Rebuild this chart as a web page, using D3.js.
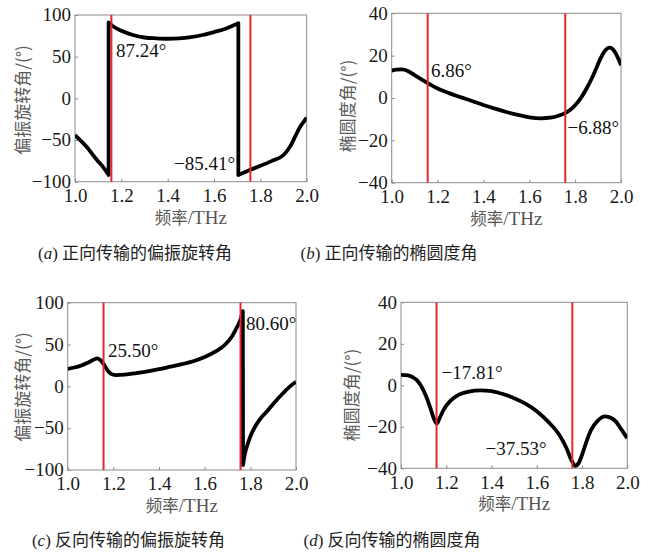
<!DOCTYPE html>
<html><head><meta charset="utf-8">
<script src="https://cdn.jsdelivr.net/npm/d3@7"></script>
<style>
html,body{margin:0;padding:0;background:#fff;}
svg{display:block;}
</style></head>
<body>
<svg id="chart" width="651" height="557"></svg>
<script>
// ---------- data ----------
const xTicks = [1.0, 1.2, 1.4, 1.6, 1.8, 2.0];
const rotTicks = [-100, -50, 0, 50, 100];
const ellTicks = [-40, -20, 0, 20, 40];

// (a) forward rotation angle — segments separated by jumps
const aFreq = [
  [1.0, 1.05, 1.095, 1.12, 1.145],
  [1.145, 1.16, 1.2, 1.25, 1.3, 1.35, 1.4, 1.45, 1.5, 1.55, 1.6, 1.65, 1.705],
  [1.705, 1.73, 1.76, 1.8, 1.85, 1.9, 1.93, 1.95, 1.97, 1.99, 2.0]
];
const aVal = [
  [-44, -58, -74, -82, -92],
  [91, 87.24, 81, 76, 73, 72, 71.5, 72, 73.5, 76, 79.5, 83.5, 90],
  [-92, -89, -85.41, -81, -75, -68, -57, -46, -35, -27, -23]
];
// (b) forward ellipticity
const bFreq = [[1.0, 1.02, 1.045, 1.07, 1.1, 1.13, 1.16, 1.2, 1.25, 1.3, 1.35, 1.4, 1.45, 1.5, 1.55, 1.6, 1.65, 1.7, 1.73, 1.76, 1.79, 1.82, 1.85, 1.88, 1.91, 1.93, 1.95, 1.965, 1.98, 2.0]];
const bVal = [[12.9, 13.4, 13.5, 12.8, 10.8, 8.8, 6.86, 4.5, 2.3, 0.4, -1.4, -3.3, -5, -6.6, -8, -9.1, -9.6, -9.2, -8.3, -6.88, -4.5, -0.8, 4.5, 11, 18.5, 22.3, 23.8, 23, 20.5, 15.5]];
// (c) backward rotation angle
const cFreq = [
  [1.0, 1.03, 1.06, 1.09, 1.115, 1.13, 1.145, 1.16, 1.175, 1.19, 1.21, 1.25, 1.3, 1.35, 1.4, 1.45, 1.5, 1.55, 1.6, 1.65, 1.69, 1.72, 1.74, 1.758, 1.767],
  [1.768, 1.775, 1.785, 1.8, 1.813, 1.84, 1.872, 1.9, 1.944, 1.97, 2.0]
];
const cVal = [
  [21, 22.5, 25, 28.5, 32, 33.5, 31, 25.5, 19, 15, 13.5, 14, 15.8, 18, 20.5, 23.5, 26.5, 30, 35, 42, 50, 60, 70, 80.6, 90],
  [-94, -82, -72, -60, -52, -40, -30, -21, -8, -1, 5.5]
];
// (d) backward ellipticity
const dFreq = [[1.0, 1.03, 1.05, 1.07, 1.09, 1.11, 1.13, 1.145, 1.158, 1.17, 1.19, 1.22, 1.25, 1.3, 1.35, 1.4, 1.45, 1.5, 1.55, 1.6, 1.65, 1.7, 1.73, 1.755, 1.77, 1.785, 1.8, 1.82, 1.84, 1.87, 1.9, 1.92, 1.95, 1.975, 2.0]];
const dVal = [[5, 4.8, 4, 2.5, -0.5, -5, -11, -16, -18.5, -16, -11.5, -7.3, -4.8, -3, -2.4, -2.8, -4.2, -6.2, -8.8, -12.5, -17.5, -24, -30, -36.5, -38.8, -37.5, -33.5, -27, -21.5, -17, -15, -15.3, -17.5, -21.5, -25.5]];

const markerFreq = [1.157, 1.757];
const yTitles = ["偏振旋转角/(°)", "椭圆度角/(°)", "偏振旋转角/(°)", "椭圆度角/(°)"];
const annotations = [
  ["87.24°", "−85.41°"],
  ["6.86°", "−6.88°"],
  ["25.50°", "80.60°"],
  ["−17.81°", "−37.53°"]
];
const captionLetters = ["a", "b", "c", "d"];
const captionTexts = ["正向传输的偏振旋转角", "正向传输的椭圆度角", "反向传输的偏振旋转角", "反向传输的椭圆度角"];

// ---------- layout ----------
const panels = [
  {L: 75, R: 306.7, T: 15, B: 181.7, dom: [-100, 100], ticks: rotTicks, f: aFreq, v: aVal,
   ytx: 23, yty: 100, ann: [{x: 116, y: 50, a: "start"}, {x: 235, y: 163, a: "end"}], cap: {x: 135, y: 253}},
  {L: 391.7, R: 621, T: 13.3, B: 182.7, dom: [-40, 40], ticks: ellTicks, f: bFreq, v: bVal,
   ytx: 348, yty: 106, ann: [{x: 431, y: 70, a: "start"}, {x: 567.5, y: 127, a: "start"}], cap: {x: 389, y: 253}},
  {L: 67.7, R: 296, T: 302.7, B: 470, dom: [-100, 100], ticks: rotTicks, f: cFreq, v: cVal,
   ytx: 23, yty: 387, ann: [{x: 108, y: 350, a: "start"}, {x: 246, y: 323, a: "start"}], cap: {x: 128.5, y: 540}},
  {L: 401, R: 627.3, T: 302.3, B: 468.3, dom: [-40, 40], ticks: ellTicks, f: dFreq, v: dVal,
   ytx: 352, yty: 395, ann: [{x: 441.5, y: 372, a: "start"}, {x: 546.5, y: 448, a: "end"}], cap: {x: 392, y: 540}}
];

const svg = d3.select("#chart");
const serif = "'Liberation Serif','Times New Roman',serif";
const cjk = "'Noto Sans CJK SC','Noto Sans CJK JP',sans-serif";

panels.forEach((p, i) => {
  const x = d3.scaleLinear().domain([1.0, 2.0]).range([p.L, p.R]);
  const y = d3.scaleLinear().domain(p.dom).range([p.B, p.T]);
  const g = svg.append("g");

  const cid = "clip" + i;
  svg.append("clipPath").attr("id", cid).append("rect")
    .attr("x", p.L).attr("y", p.T - 2).attr("width", p.R - p.L).attr("height", p.B - p.T + 4);

  const xAxis = d3.axisBottom(x).tickValues(xTicks).tickFormat(d3.format(".1f")).tickSize(-3).tickPadding(7);
  const yAxis = d3.axisLeft(y).tickValues(p.ticks).tickFormat(d3.format("d")).tickSize(-3).tickPadding(4);
  const gx = g.append("g").attr("transform", `translate(0,${p.B})`).call(xAxis);
  const gy = g.append("g").attr("transform", `translate(${p.L},0)`).call(yAxis);
  [gx, gy].forEach(ax => {
    ax.select(".domain").remove();
    ax.selectAll(".tick line").attr("stroke", "#888").attr("stroke-width", 1);
    ax.selectAll(".tick text").attr("fill", "#1a1a1a").style("font-family", serif).style("font-size", "19px");
  });
  gy.selectAll(".tick text").attr("dy", "0.3em");

  g.append("rect").attr("x", p.L).attr("y", p.T).attr("width", p.R - p.L).attr("height", p.B - p.T)
    .attr("fill", "none").attr("stroke", "#8c8c8c").attr("stroke-width", 1);

  const lineGen = d3.line().x(d => x(d[0])).y(d => y(d[1])).curve(d3.curveMonotoneX);
  let dStr = "";
  p.f.forEach((fs, k) => {
    const pts = fs.map((fv, j) => [fv, p.v[k][j]]);
    let s = lineGen(pts);
    if (k > 0) s = "L" + s.slice(1);
    dStr += s;
  });
  g.append("path").attr("d", dStr).attr("fill", "none").attr("stroke", "#000")
    .attr("stroke-width", 3.8).attr("stroke-linejoin", "round").attr("clip-path", `url(#${cid})`);

  g.selectAll(".mk").data(markerFreq).enter().append("line")
    .attr("x1", d => x(d)).attr("x2", d => x(d)).attr("y1", p.T).attr("y2", p.B)
    .attr("stroke", "#e5262b").attr("stroke-width", 2);

  p.ann.forEach((a, k) => {
    g.append("text").attr("x", a.x).attr("y", a.y).attr("dy", "0.35em")
      .attr("text-anchor", a.a).style("font-family", serif).style("font-size", "19px")
      .attr("fill", "#111").text(annotations[i][k]);
  });

  g.append("text").attr("transform", `translate(${p.ytx},${p.yty}) rotate(-90)`)
    .attr("text-anchor", "middle").attr("dy", "0.35em")
    .style("font-family", cjk).style("font-size", "17px").attr("fill", "#5a5a5a")
    .text(yTitles[i]);

  const xt = g.append("text").attr("x", (p.L + p.R) / 2).attr("y", p.B + 42)
    .attr("text-anchor", "middle").attr("fill", "#555");
  xt.append("tspan").style("font-family", cjk).style("font-size", "16.5px").text("频率");
  xt.append("tspan").style("font-family", serif).style("font-size", "19px").text("/THz");

  const ct = g.append("text").attr("x", p.cap.x).attr("y", p.cap.y).attr("dy", "0.35em")
    .attr("text-anchor", "middle").attr("fill", "#222").style("font-size", "17px");
  ct.append("tspan").style("font-family", serif).text("(");
  ct.append("tspan").style("font-family", serif).style("font-style", "italic").text(captionLetters[i]);
  ct.append("tspan").style("font-family", serif).text(") ");
  ct.append("tspan").style("font-family", cjk).text(captionTexts[i]);
});
</script>
</body></html>
